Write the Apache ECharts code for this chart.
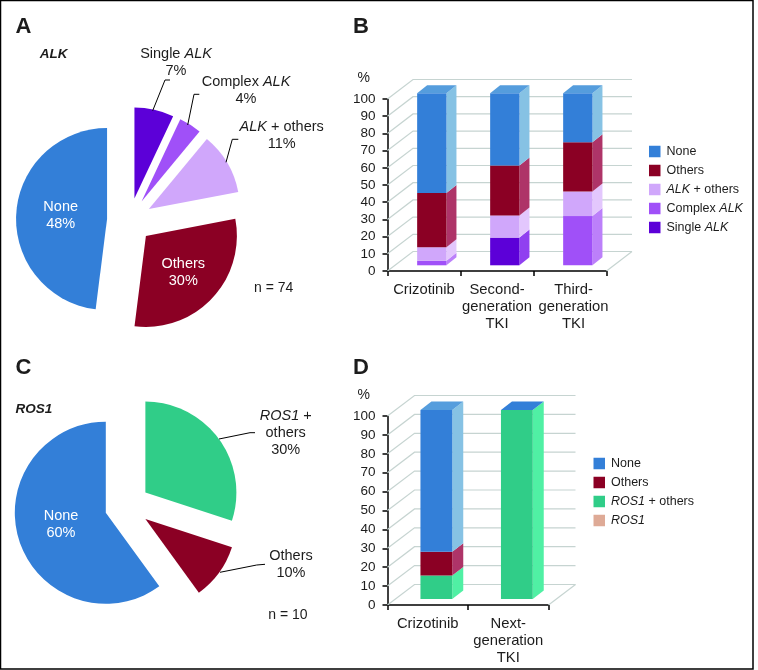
<!DOCTYPE html>
<html><head><meta charset="utf-8">
<style>html,body{margin:0;padding:0;background:#fff}#c{width:758px;height:670px}</style>
<script src="https://cdn.jsdelivr.net/npm/echarts@6/dist/echarts.min.js"></script>
</head><body><div id="c"></div>
<script>
// ---------- data ----------
const pieANames = ['Single ALK', 'Complex ALK', 'ALK + others', 'Others', 'None'];
const pieAValues = [7, 4, 11, 30, 48];
const pieALabels = ['Single ALK\n7%', 'Complex ALK\n4%', 'ALK + others\n11%', 'Others\n30%', 'None\n48%'];
const pieCNames = ['ROS1 + others', 'Others', 'None'];
const pieCValues = [30, 10, 60];
const pieCLabels = ['ROS1 +\nothers\n30%', 'Others\n10%', 'None\n60%'];

const catsB = ['Crizotinib', 'Second-\ngeneration\nTKI', 'Third-\ngeneration\nTKI'];
const singleB = [0, 16.1, 0];
const complexB = [2.6, 0, 28.6];
const alkOthersB = [7.9, 12.9, 14.3];
const othersB = [31.6, 29, 28.6];
const noneB = [57.9, 42, 28.5];

const catsD = ['Crizotinib', 'Next-\ngeneration\nTKI'];
const ros1D = [0, 0];
const rosOthersD = [12.5, 100];
const othersD = [12.5, 0];
const noneD = [75, 0];

const yTicks = [0, 10, 20, 30, 40, 50, 60, 70, 80, 90, 100];

// ---------- styles ----------
const FONT = '"Liberation Sans", Arial, sans-serif';
const INK = '#1c1c1c';
const COL = {
  'None': {f: '#337fd8', s: '#86c2e4', t: '#559ddd'},
  'Others': {f: '#8b0024', s: '#ae3468', t: '#ae3468'},
  'ALK + others': {f: '#d0a7fb', s: '#e3c7fd', t: '#e3c7fd'},
  'Complex ALK': {f: '#a050f8', s: '#bc80fa', t: '#bc80fa'},
  'Single ALK': {f: '#5c00d8', s: '#9040f0', t: '#9040f0'},
  'ROS1 + others': {f: '#30cd88', s: '#50f0a4', t: '#50f0a4'},
  'ROS1': {f: '#deaa96', s: '#e8c4b4', t: '#e8c4b4'}
};
const GEOM_B = {wall: [25.5, -19.5], front: [7.8, -5.7], side: [10, -8], w: 29.3};
const GEOM_D = {wall: [27, -20.5], front: [8.6, -6], side: [11, -8.4], w: 31.8};

const ital = s => s.replace(/(ALK|ROS1)/g, '{i|$1}');

// ---------- builders ----------
function wallSeries(gridIndex, g) {
  return {
    type: 'custom', xAxisIndex: gridIndex, yAxisIndex: gridIndex, silent: true, clip: false, z: 1,
    data: yTicks.map(v => [0, v]), encode: {x: 0, y: 1},
    renderItem(params, api) {
      const cs = params.coordSys;
      const y = api.coord([0, api.value(1)])[1];
      const x0 = cs.x, x1 = cs.x + cs.width;
      const st = {stroke: '#c6d4d1', lineWidth: 1.2, fill: null};
      const kids = [
        {type: 'polyline', shape: {points: [[x0, y], [x0 + g.wall[0], y + g.wall[1]], [x1 + g.wall[0], y + g.wall[1]]]}, style: st}
      ];
      if (api.value(1) === 0) kids.push({type: 'line', shape: {x1: x1, y1: y, x2: x1 + g.wall[0], y2: y + g.wall[1]}, style: st});
      return {type: 'group', children: kids};
    }
  };
}
function barSeries(gridIndex, g, name, values, below) {
  const c = COL[name];
  const isTop = name === 'None';
  return {
    type: 'custom', name, xAxisIndex: gridIndex, yAxisIndex: gridIndex, clip: false, z: 2,
    itemStyle: {color: c.f}, silent: true,
    data: values.map((v, i) => [i, v, below.reduce((a, arr) => a + arr[i], 0)]),
    encode: {x: 0, y: 1},
    renderItem(params, api) {
      const i = api.value(0), v = api.value(1), b = api.value(2);
      const p0 = api.coord([i, b]), p1 = api.coord([i, b + v]);
      const cx = p0[0] + g.front[0];
      const xl = cx - g.w / 2, xr = cx + g.w / 2;
      const yb = p0[1] + g.front[1], yt = p1[1] + g.front[1];
      const [sx, sy] = g.side;
      const kids = [];
      if (v > 0) {
        kids.push({type: 'polygon', shape: {points: [[xr, yb], [xr + sx, yb + sy], [xr + sx, yt + sy], [xr, yt]]}, style: {fill: c.s}});
        kids.push({type: 'rect', shape: {x: xl, y: yt, width: g.w, height: yb - yt}, style: {fill: c.f}});
      }
      if (isTop) {
        kids.push({type: 'polygon', shape: {points: [[xl, yt], [xl + sx, yt + sy], [xr + sx, yt + sy], [xr, yt]]}, style: {fill: v > 0 ? c.t : c.f}});
      }
      return {type: 'group', children: kids};
    }
  };
}
function axesFor(gridIndex, cats, nudged) {
  const CAT = {fontFamily: FONT, fontSize: 14.8, lineHeight: 16.7, color: INK};
  return {
    x: {
      type: 'category', gridIndex, data: cats, boundaryGap: true,
      axisLine: {lineStyle: {color: '#000', width: 1.5}},
      axisTick: {show: true, length: 5, alignWithLabel: false, lineStyle: {color: '#000', width: 1.5}},
      axisLabel: Object.assign({margin: 11, interval: 0, hideOverlap: false,
        formatter: (v, i) => i === nudged ? v.split('\n').map(l => '{s|' + l + '}').join('\n') : v,
        rich: {s: Object.assign({padding: [0, 0, 0, 7]}, CAT)}}, CAT)
    },
    y: {
      type: 'value', gridIndex, min: 0, max: 100, interval: 10,
      axisLine: {show: true, lineStyle: {color: '#000', width: 1.5}},
      axisTick: {show: true, length: 5, lineStyle: {color: '#000', width: 1.5}},
      axisLabel: {color: INK, fontFamily: FONT, fontSize: 13.5, margin: 12},
      splitLine: {show: false}
    }
  };
}
function pieSeries(names, values, center, offset) {
  return {
    type: 'pie', radius: 91, center, startAngle: 90, clockwise: true, animation: false, silent: true,
    selectedMode: 'multiple', selectedOffset: offset, avoidLabelOverlap: false, sort: null,
    label: {show: false}, labelLine: {show: false},
    data: names.map((n, i) => ({name: n, value: values[i], selected: true, itemStyle: {color: COL[n].f}}))
  };
}
function legendFor(data, left, top) {
  return {
    orient: 'vertical', left, top, padding: 0, data, icon: 'rect', itemWidth: 11.5, itemHeight: 11.5, itemGap: 6,
    selectedMode: false, formatter: ital,
    textStyle: {color: INK, fontFamily: FONT, fontSize: 12.5, lineHeight: 11.5, padding: [0, 0, 0, 1], rich: {i: {fontStyle: 'italic', fontSize: 12.5, fontFamily: FONT, color: INK, lineHeight: 11.5}}}
  };
}
const txt = (text, x, y, font, fill) => ({
  type: 'text', z: 10, silent: true,
  style: {text: ital(text), x, y, fill: fill || INK, font: font + ' ' + FONT, lineHeight: 17, align: 'center', verticalAlign: 'middle',
    rich: {i: {font: 'italic ' + font + ' ' + FONT, fill: fill || INK, lineHeight: 17}}}
});
const ttl = (text, x, y) => ({
  type: 'text', z: 10, silent: true,
  style: {text, x, y, fill: INK, font: 'italic bold 13.5px ' + FONT, align: 'center', verticalAlign: 'middle'}
});
const lead = pts => ({type: 'polyline', z: 10, silent: true, shape: {points: pts}, style: {stroke: '#000', lineWidth: 1, fill: null}});

const axB = axesFor(0, catsB, 2), axD = axesFor(1, catsD, -1);
const option = {
  animation: false,
  backgroundColor: '#fff',
  grid: [
    {left: 387.5, top: 99, width: 219, height: 172},
    {left: 387.5, top: 416, width: 161, height: 189}
  ],
  xAxis: [axB.x, axD.x],
  yAxis: [axB.y, axD.y],
  legend: [
    legendFor(['None', 'Others', 'ALK + others', 'Complex ALK', 'Single ALK'], 649, 145),
    legendFor(['None', 'Others', 'ROS1 + others', 'ROS1'], 593.5, 457)
  ],
  series: [
    pieSeries(pieANames, pieAValues, [129.5, 220.5], 22.5),
    pieSeries(pieCNames, pieCValues, [127.2, 505.8], 22.5),
    wallSeries(0, GEOM_B),
    barSeries(0, GEOM_B, 'Complex ALK', complexB, []),
    barSeries(0, GEOM_B, 'Single ALK', singleB, [complexB]),
    barSeries(0, GEOM_B, 'ALK + others', alkOthersB, [complexB, singleB]),
    barSeries(0, GEOM_B, 'Others', othersB, [complexB, singleB, alkOthersB]),
    barSeries(0, GEOM_B, 'None', noneB, [complexB, singleB, alkOthersB, othersB]),
    wallSeries(1, GEOM_D),
    barSeries(1, GEOM_D, 'ROS1', ros1D, []),
    barSeries(1, GEOM_D, 'ROS1 + others', rosOthersD, [ros1D]),
    barSeries(1, GEOM_D, 'Others', othersD, [ros1D, rosOthersD]),
    barSeries(1, GEOM_D, 'None', noneD, [ros1D, rosOthersD, othersD])
  ],
  graphic: [
    {type: 'rect', z: 20, silent: true, shape: {x: 0.5, y: 0.5, width: 752.5, height: 668.5}, style: {fill: null, stroke: '#000', lineWidth: 1.5}},
    txt('A', 23.5, 27, 'bold 22px'), txt('B', 361, 27, 'bold 22px'),
    txt('C', 23.5, 368, 'bold 22px'), txt('D', 361, 368, 'bold 22px'),
    ttl('ALK', 53.7, 54), ttl('ROS1', 34, 409),
    txt(pieALabels[0], 176, 62.5, '14.5px'),
    txt(pieALabels[1], 246, 90, '14.5px'),
    txt(pieALabels[2], 281.7, 135, '14.5px'),
    txt(pieALabels[3], 183.3, 272.7, '14.5px', '#fff'),
    txt(pieALabels[4], 60.7, 215.5, '14.5px', '#fff'),
    txt(pieCLabels[0], 285.7, 433.3, '14.5px'),
    txt(pieCLabels[1], 291, 564, '14.5px'),
    txt(pieCLabels[2], 61, 524, '14.5px', '#fff'),
    txt('n = 74', 273.7, 288, '14px'), txt('n = 10', 288, 615, '14px'),
    txt('%', 363.7, 78, '14px'), txt('%', 363.7, 395, '14px'),
    lead([[152.7, 110.7], [165, 80], [170, 80]]),
    lead([[187.7, 125], [194, 94.3], [199.3, 94.3]]),
    lead([[226, 162.3], [232.3, 139.3], [238.3, 139.3]]),
    lead([[219, 439], [250, 432.7], [255, 432.7]]),
    lead([[220, 572.3], [256.7, 565], [265, 564.3]])
  ]
};
echarts.init(document.getElementById('c'), null, {renderer: 'canvas'}).setOption(option);
</script></body></html>
